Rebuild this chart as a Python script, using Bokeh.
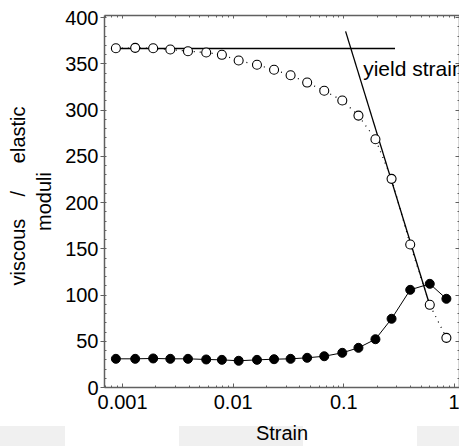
from bokeh.plotting import figure
from bokeh.models import (Range1d, FixedTicker, LogAxis, LinearAxis, Label,
                          ColumnDataSource)
from bokeh.embed import file_html
from bokeh.resources import INLINE

# ---- data ----
strain = [0.00087, 0.0013, 0.00189, 0.0027, 0.0039, 0.0057, 0.0079, 0.0112,
          0.0164, 0.0234, 0.033, 0.0466, 0.0665, 0.0968, 0.1355, 0.193,
          0.27, 0.398, 0.598, 0.845]
elastic = [366.8, 367.2, 366.8, 365.4, 363.6, 362.2, 359.7, 353.5, 348.9,
           343.5, 337.6, 329.7, 320.8, 310.3, 294.0, 268.4, 225.6, 154.6,
           89.4, 53.7]
viscous = [31.0, 31.0, 31.4, 31.0, 31.0, 30.3, 29.9, 28.9, 29.9, 30.6, 31.0,
           32.1, 33.8, 37.5, 42.9, 52.2, 74.3, 105.6, 112.1, 95.9]

plateau_strain = [0.00087, 0.29]
plateau_modulus = [366.5, 366.5]
slope_strain = [0.1037, 0.58]
slope_modulus = [385.0, 94.0]
yield_label = "yield strain"
yield_label_strain = 0.1496
yield_label_modulus = 344.5

x_major = [0.001, 0.01, 0.1, 1.0]
x_minor = [m * d for d in [0.0001, 0.001, 0.01, 0.1, 1.0] for m in range(2, 10)]
y_major = list(range(0, 401, 50))
y_minor = list(range(0, 401, 10))

FONT = "Liberation Sans"
AX = "#606060"
NB = "\u00a0"

p = figure(width=459, height=446, output_backend="svg", toolbar_location=None,
           x_axis_type="log",
           x_range=Range1d(6.864e-4, 1.11), y_range=Range1d(0, 402.2),
           min_border_left=104, min_border_right=0, min_border_top=15,
           min_border_bottom=59)
p.outline_line_color = None
p.grid.visible = False
p.background_fill_color = "white"
p.border_fill_color = None
# light grey bands along the bottom edge of the picture (page background)
bands = ("linear-gradient(to right, #f0f0f0 0px, #f0f0f0 65px, "
         "transparent 65px, transparent 179px, #f0f0f0 179px, #f0f0f0 303px, "
         "transparent 303px, transparent 417px, #f0f0f0 417px, #f0f0f0 100%)")
p.styles = {"background-image": bands,
            "background-repeat": "no-repeat", "background-size": "100% 20px",
            "background-position": "left bottom"}

xt = FixedTicker(ticks=x_major, minor_ticks=x_minor)
yt = FixedTicker(ticks=y_major, minor_ticks=y_minor)

xa = p.xaxis[0]
xa.ticker = xt
xa.major_label_overrides = {0.001: "0.001", 0.01: "0.01", 0.1: "0.1", 1: "1"}
xa.axis_label = "Strain"
ya = p.yaxis[0]
ya.ticker = yt
ya.axis_label = (NB * 2 + "viscous" + NB * 4 + "/" + NB * 5 + "elastic\nmoduli")

for ax in (xa, ya):
    ax.axis_line_color = AX
    ax.axis_line_width = 1.5
    ax.major_tick_line_color = AX
    ax.minor_tick_line_color = AX
    ax.major_label_text_font = FONT
    ax.major_label_text_font_size = "20px"
    ax.major_label_text_color = "black"
    ax.axis_label_text_font = FONT
    ax.axis_label_text_font_size = "20px"
    ax.axis_label_text_font_style = "normal"
    ax.axis_label_text_color = "black"

xa.major_tick_in = 4
xa.major_tick_out = 0
xa.minor_tick_in = 2
xa.minor_tick_out = 0
xa.major_label_standoff = 7
xa.axis_label_standoff = 10

ya.major_tick_in = 0
ya.major_tick_out = 4
ya.minor_tick_in = 2
ya.minor_tick_out = 0
ya.major_label_standoff = 2
ya.axis_label_standoff = 7

top = LogAxis(ticker=FixedTicker(ticks=x_major, minor_ticks=x_minor),
              major_label_text_font_size="1px", major_label_text_alpha=0,
              major_tick_in=3, major_tick_out=0, minor_tick_in=2,
              minor_tick_out=0, major_label_standoff=0, axis_line_color=AX,
              axis_line_width=1.5, major_tick_line_color=AX,
              minor_tick_line_color=AX)
p.add_layout(top, "above")
right = LinearAxis(ticker=FixedTicker(ticks=y_major, minor_ticks=y_minor),
                   major_label_text_font_size="1px", major_label_text_alpha=0,
                   major_tick_in=4, major_tick_out=0, minor_tick_in=2,
                   minor_tick_out=0, major_label_standoff=-3,
                   axis_line_color=AX, axis_line_width=1.5,
                   major_tick_line_color=AX, minor_tick_line_color=AX)
p.add_layout(right, "right")

src = ColumnDataSource(dict(strain=strain, elastic=elastic, viscous=viscous))

# guide lines
p.line(plateau_strain, plateau_modulus, line_color="black", line_width=1.3)
p.line(slope_strain, slope_modulus, line_color="black", line_width=1.3)

# elastic modulus: dotted line + open circles
p.line("strain", "elastic", source=src, line_color="black", line_width=1.2,
       line_dash="1 5")
p.scatter("strain", "elastic", source=src, size=9, marker="circle",
          fill_color="white", line_color="black", line_width=1.1)

# viscous modulus: solid line + filled circles
p.line("strain", "viscous", source=src, line_color="black", line_width=1)
p.scatter("strain", "viscous", source=src, size=9, marker="circle",
          fill_color="black", line_color="black")

p.add_layout(Label(x=yield_label_strain, y=yield_label_modulus,
                   text=yield_label, text_font=FONT, text_font_size="21px",
                   text_baseline="alphabetic", text_align="left",
                   text_color="black"))

open("out.html", "w").write(file_html(p, INLINE))
